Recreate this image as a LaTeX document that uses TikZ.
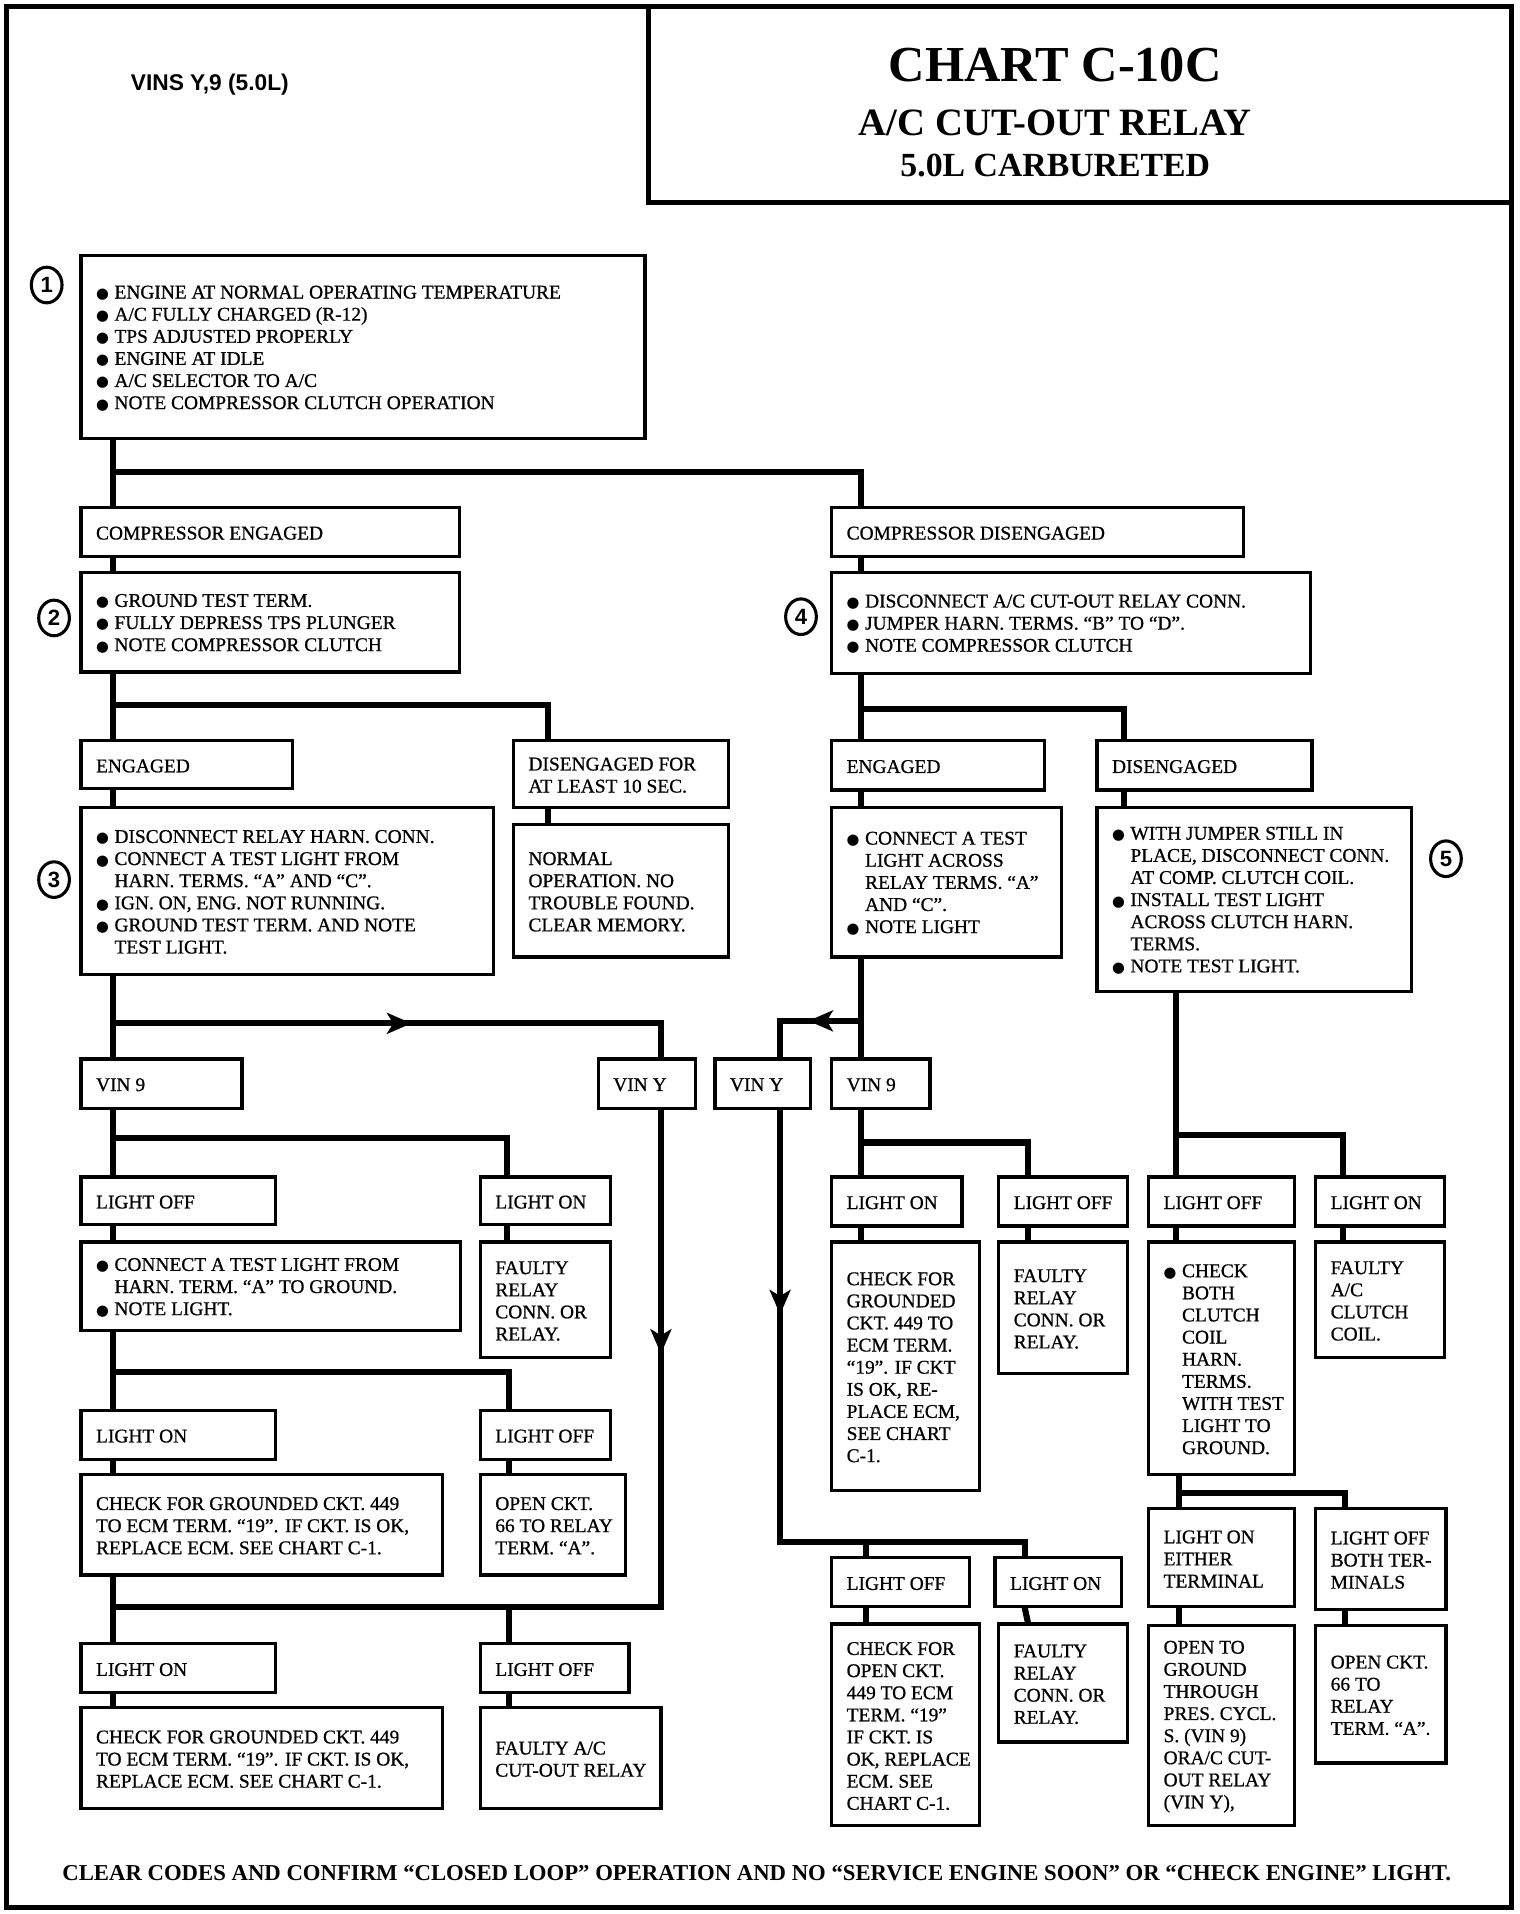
\documentclass[tikz,border=0pt]{standalone}
\usepackage{fontspec}
\setmainfont{Liberation Serif}
\newfontfamily\boxface{Liberation Serif}[FakeBold=0.8]
\newfontfamily\hdfont{Liberation Sans}
\newfontfamily\symfont{DejaVu Sans}
\usetikzlibrary{arrows.meta,shapes.geometric}

\newcommand{\bodyfont}{\boxface\fontsize{15.8pt}{18pt}\selectfont}
\newcommand{\bul}{\makebox[15pt][l]{\symfont\fontsize{12pt}{18pt}\selectfont ●}}
\newcommand{\ind}{\hspace*{15pt}}
% box with its text: name, left, top, width, height, text
\newcommand{\chartbox}[6]{%
  \node[box, minimum width=#4pt, minimum height=#5pt] (#1) at (#2,#3) {};
  \node[txt] (#1-t) at ([xshift=12pt, yshift=-1pt]#1.west) {#6};}

\begin{document}
\begin{tikzpicture}[x=1pt, y=-1pt,
  box/.style={draw, rectangle, line width=2.6pt, inner sep=0pt, outer sep=0pt, anchor=north west},
  txt/.style={anchor=west, align=left, inner sep=0pt, font=\bodyfont},
  conn/.style={line width=5pt, line join=miter},
  tip/.style={-{Stealth[length=20pt, width=17pt, inset=5pt]}},
  num/.style={draw, ellipse, line width=2.5pt, minimum width=25pt, minimum height=29pt,
    inner sep=0pt, font=\hdfont\bfseries\fontsize{18pt}{18pt}\selectfont}]

  \useasboundingbox (0,0) rectangle (1237,1558);

  % frame and title
  \draw[line width=4pt] (5,5) rectangle (1230,1553);
  \draw[line width=4pt] (528,5) -- (528,165) -- (1230,165);
  \node[anchor=base, font=\bfseries\fontsize{41pt}{44pt}\selectfont] (ttl) at (859,66) {CHART C-10C};
  \node[anchor=base, font=\bfseries\fontsize{31.5pt}{34pt}\selectfont] (sub) at (859,110) {A/C CUT-OUT RELAY};
  \node[anchor=base, font=\bfseries\fontsize{27.5pt}{30pt}\selectfont] (eng) at (859,144) {5.0L CARBURETED};
  \node[anchor=base west, font=\hdfont\bfseries\fontsize{18.5pt}{20pt}\selectfont] (vins) at (103,74) {VINS Y,9 (5.0L)};

  % step numbers
  \node[num] (n1) at (38,232) {1};
  \node[num] (n2) at (44,503) {2};
  \node[num] (n3) at (44,716) {3};
  \node[num] (n4) at (652,502) {4};
  \node[num] (n5) at (1177,699) {5};

  % left side
  \chartbox{start}{66}{208}{459}{149}{\bul ENGINE AT NORMAL OPERATING TEMPERATURE\\\bul A/C FULLY CHARGED (R-12)\\\bul TPS ADJUSTED PROPERLY\\\bul ENGINE AT IDLE\\\bul A/C SELECTOR TO A/C\\\bul NOTE COMPRESSOR CLUTCH OPERATION}
  \chartbox{cengd}{66}{413}{308}{40}{COMPRESSOR ENGAGED}
  \chartbox{stepb}{66}{466}{308}{81}{\bul GROUND TEST TERM.\\\bul FULLY DEPRESS TPS PLUNGER\\\bul NOTE COMPRESSOR CLUTCH}
  \chartbox{engl}{66}{603}{172}{39}{ENGAGED}
  \chartbox{dis10}{418}{603}{175}{54}{DISENGAGED FOR\\AT LEAST 10 SEC.}
  \chartbox{stepc}{66}{657}{336}{136}{\bul DISCONNECT RELAY HARN. CONN.\\\bul CONNECT A TEST LIGHT FROM\\\ind HARN. TERMS. “A” AND “C”.\\\bul IGN. ON, ENG. NOT RUNNING.\\\bul GROUND TEST TERM. AND NOTE\\\ind TEST LIGHT.}
  \chartbox{normal}{418}{671}{175}{108}{NORMAL\\OPERATION. NO\\TROUBLE FOUND.\\CLEAR MEMORY.}
  \chartbox{vin9l}{66}{862}{131}{40}{VIN 9}
  \chartbox{vinyl}{487}{862}{79}{40}{VIN Y}
  \chartbox{offa}{66}{958}{158}{39}{LIGHT OFF}
  \chartbox{ona}{391}{958}{106}{39}{LIGHT ON}
  \chartbox{stepa}{66}{1011}{309}{72}{\bul CONNECT A TEST LIGHT FROM\\\ind HARN. TERM. “A” TO GROUND.\\\bul NOTE LIGHT.}
  \chartbox{faultya}{391}{1011}{106}{94}{FAULTY\\RELAY\\CONN. OR\\RELAY.}
  \chartbox{onb}{66}{1148}{158}{40}{LIGHT ON}
  \chartbox{offb}{391}{1148}{106}{40}{LIGHT OFF}
  \chartbox{gndb}{66}{1200}{294}{82}{CHECK FOR GROUNDED CKT. 449\\TO ECM TERM. “19”. IF CKT. IS OK,\\REPLACE ECM. SEE CHART C-1.}
  \chartbox{openb}{391}{1200}{118}{82}{OPEN CKT.\\66 TO RELAY\\TERM. “A”.}
  \chartbox{onc}{66}{1338}{158}{40}{LIGHT ON}
  \chartbox{offc}{391}{1338}{121}{40}{LIGHT OFF}
  \chartbox{gndc}{66}{1390}{294}{82}{CHECK FOR GROUNDED CKT. 449\\TO ECM TERM. “19”. IF CKT. IS OK,\\REPLACE ECM. SEE CHART C-1.}
  \chartbox{faultyc}{391}{1390}{147}{82}{FAULTY A/C\\CUT-OUT RELAY}

  % right side
  \chartbox{cdisg}{677}{413}{335}{40}{COMPRESSOR DISENGAGED}
  \chartbox{stepd}{677}{466}{390}{82}{\bul DISCONNECT A/C CUT-OUT RELAY CONN.\\\bul JUMPER HARN. TERMS. “B” TO “D”.\\\bul NOTE COMPRESSOR CLUTCH}
  \chartbox{engr}{677}{603}{173}{40}{ENGAGED}
  \chartbox{disr}{893}{603}{175}{40}{DISENGAGED}
  \chartbox{stepe}{677}{657}{187}{122}{\bul CONNECT A TEST\\\ind LIGHT ACROSS\\\ind RELAY TERMS. “A”\\\ind AND “C”.\\\bul NOTE LIGHT}
  \chartbox{stepf}{893}{657}{256}{150}{\bul WITH JUMPER STILL IN\\\ind PLACE, DISCONNECT CONN.\\\ind AT COMP. CLUTCH COIL.\\\bul INSTALL TEST LIGHT\\\ind ACROSS CLUTCH HARN.\\\ind TERMS.\\\bul NOTE TEST LIGHT.}
  \chartbox{vinyr}{582}{862}{78}{40}{VIN Y}
  \chartbox{vin9r}{677}{862}{80}{40}{VIN 9}
  \chartbox{ond}{677}{958}{106}{40}{LIGHT ON}
  \chartbox{offd}{813}{958}{105}{40}{LIGHT OFF}
  \chartbox{offe}{935}{958}{119}{40}{LIGHT OFF}
  \chartbox{one}{1071}{958}{105}{40}{LIGHT ON}
  \chartbox{gndd}{677}{1011}{120}{202}{CHECK FOR\\GROUNDED\\CKT. 449 TO\\ECM TERM.\\“19”. IF CKT\\IS OK, RE-\\PLACE ECM,\\SEE CHART\\C-1.}
  \chartbox{faultyd}{813}{1011}{105}{107}{FAULTY\\RELAY\\CONN. OR\\RELAY.}
  \chartbox{checke}{935}{1011}{119}{189}{\bul CHECK\\\ind BOTH\\\ind CLUTCH\\\ind COIL\\\ind HARN.\\\ind TERMS.\\\ind WITH TEST\\\ind LIGHT TO\\\ind GROUND.}
  \chartbox{faultye}{1071}{1011}{105}{94}{FAULTY\\A/C\\CLUTCH\\COIL.}
  \chartbox{onf}{935}{1228}{119}{80}{LIGHT ON\\EITHER\\TERMINAL}
  \chartbox{offf}{1071}{1228}{106}{82}{LIGHT OFF\\BOTH TER-\\MINALS}
  \chartbox{openf}{935}{1323}{119}{163}{OPEN TO\\GROUND\\THROUGH\\PRES. CYCL.\\S. (VIN 9)\\ORA/C CUT-\\OUT RELAY\\(VIN Y),}
  \chartbox{opensf}{1071}{1323}{106}{112}{OPEN CKT.\\66 TO\\RELAY\\TERM. “A”.}
  \chartbox{offg}{677}{1268}{112}{40}{LIGHT OFF}
  \chartbox{ong}{810}{1268}{103}{40}{LIGHT ON}
  \chartbox{opengg}{677}{1322}{120}{164}{CHECK FOR\\OPEN CKT.\\449 TO ECM\\TERM. “19”\\IF CKT. IS\\OK, REPLACE\\ECM. SEE\\CHART C-1.}
  \chartbox{faultyg}{813}{1322}{105}{96}{FAULTY\\RELAY\\CONN. OR\\RELAY.}

  % connectors, left side
  \draw[conn] ([xshift=26pt]start.south west) -- ([xshift=26pt]cengd.north west);
  \draw[conn] ([xshift=26pt]start.south west) -- ++(0,27) -| ([xshift=24pt]cdisg.north west);
  \draw[conn] ([xshift=26pt]cengd.south west) -- ([xshift=26pt]stepb.north west);
  \draw[conn] ([xshift=26pt]stepb.south west) -- ([xshift=26pt]engl.north west);
  \draw[conn] ([xshift=26pt]stepb.south west) -- ++(0,27) -| ([xshift=28pt]dis10.north west);
  \draw[conn] ([xshift=28pt]dis10.south west) -- ([xshift=28pt]normal.north west);
  \draw[conn] ([xshift=26pt]engl.south west) -- ([xshift=26pt]stepc.north west);
  \draw[conn] ([xshift=26pt]stepc.south west) -- ([xshift=26pt]vin9l.north west);
  \draw[conn] ([xshift=26pt]stepc.south west) -- ++(0,40) -| ([xshift=51pt]vinyl.north west);
  \draw[conn, tip] ([xshift=26pt]stepc.south west) ++(0,40) -- ++(243,0);
  \draw[conn] ([xshift=26pt]vin9l.south west) -- ([xshift=26pt]offa.north west);
  \draw[conn] ([xshift=26pt]vin9l.south west) -- ++(0,24) -| ([xshift=22pt]ona.north west);
  \draw[conn] ([xshift=26pt]offa.south west) -- ([xshift=26pt]stepa.north west);
  \draw[conn] ([xshift=22pt]ona.south west) -- ([xshift=22pt]faultya.north west);
  \draw[conn] ([xshift=26pt]stepa.south west) -- ([xshift=26pt]onb.north west);
  \draw[conn] ([xshift=26pt]stepa.south west) -- ++(0,34) -| ([xshift=23pt]offb.north west);
  \draw[conn] ([xshift=26pt]onb.south west) -- ([xshift=26pt]gndb.north west);
  \draw[conn] ([xshift=23pt]offb.south west) -- ([xshift=23pt]openb.north west);
  \draw[conn] ([xshift=26pt]gndb.south west) -- ([xshift=26pt]onc.north west);
  \draw[conn] ([xshift=51pt]vinyl.south west) -- ++(0,406) -| ([xshift=26pt]onc.north west);
  \draw[conn, tip] ([xshift=51pt]vinyl.south west) -- ++(0,200);
  \draw[conn] ([xshift=23pt]offc.north west) -- ++(0,-30);
  \draw[conn] ([xshift=26pt]onc.south west) -- ([xshift=26pt]gndc.north west);
  \draw[conn] ([xshift=23pt]offc.south west) -- ([xshift=23pt]faultyc.north west);

  % connectors, right side
  \draw[conn] ([xshift=24pt]cdisg.south west) -- ([xshift=24pt]stepd.north west);
  \draw[conn] ([xshift=24pt]stepd.south west) -- ([xshift=24pt]engr.north west);
  \draw[conn] ([xshift=24pt]stepd.south west) -- ++(0,29) -| ([xshift=22pt]disr.north west);
  \draw[conn] ([xshift=24pt]engr.south west) -- ([xshift=24pt]stepe.north west);
  \draw[conn] ([xshift=22pt]disr.south west) -- ([xshift=22pt]stepf.north west);
  \draw[conn] ([xshift=24pt]stepe.south west) -- ([xshift=24pt]vin9r.north west);
  \draw[conn] ([xshift=24pt]stepe.south west) -- ++(0,52) -| ([xshift=53pt]vinyr.north west);
  \draw[conn, tip] ([xshift=24pt]stepe.south west) ++(0,52) -- ++(-43,0);
  \draw[conn] ([xshift=24pt]vin9r.south west) -- ([xshift=24pt]ond.north west);
  \draw[conn] ([xshift=24pt]vin9r.south west) -- ++(0,28) -| ([xshift=24pt]offd.north west);
  \draw[conn] ([xshift=24pt]ond.south west) -- ([xshift=24pt]gndd.north west);
  \draw[conn] ([xshift=24pt]offd.south west) -- ([xshift=24pt]faultyd.north west);
  \draw[conn] ([xshift=22pt]offe.north west |- stepf.south) -- ([xshift=22pt]offe.north west);
  \draw[conn] ([xshift=22pt]offe.north west) ++(0,-34) -| ([xshift=22pt]one.north west);
  \draw[conn] ([xshift=22pt]offe.south west) -- ([xshift=22pt]checke.north west);
  \draw[conn] ([xshift=22pt]one.south west) -- ([xshift=22pt]faultye.north west);
  \draw[conn] ([xshift=25pt]checke.south west) -- ([xshift=25pt]onf.north west);
  \draw[conn] ([xshift=25pt]checke.south west) -- ++(0,15) -| ([xshift=24pt]offf.north west);
  \draw[conn] ([xshift=25pt]onf.south west) -- ([xshift=25pt]openf.north west);
  \draw[conn] ([xshift=24pt]offf.south west) -- ([xshift=24pt]opensf.north west);
  \draw[conn] ([xshift=53pt]vinyr.south west) -- ++(0,353) -| ([xshift=24pt]ong.north west);
  \draw[conn, tip] ([xshift=53pt]vinyr.south west) -- ++(0,168);
  \draw[conn] ([xshift=28pt]offg.north west) -- ++(0,-13);
  \draw[conn] ([xshift=28pt]offg.south west) -- ([xshift=28pt]opengg.north west);
  \draw[conn] ([xshift=24pt]ong.south west) -- ([xshift=24pt]faultyg.north west);

  % closing note
  \node[anchor=base, font=\bfseries\fontsize{18.5pt}{20pt}\selectfont] (foot) at (616,1531)
    {CLEAR CODES AND CONFIRM “CLOSED LOOP” OPERATION AND NO “SERVICE ENGINE SOON” OR “CHECK ENGINE” LIGHT.};

\end{tikzpicture}
\end{document}
